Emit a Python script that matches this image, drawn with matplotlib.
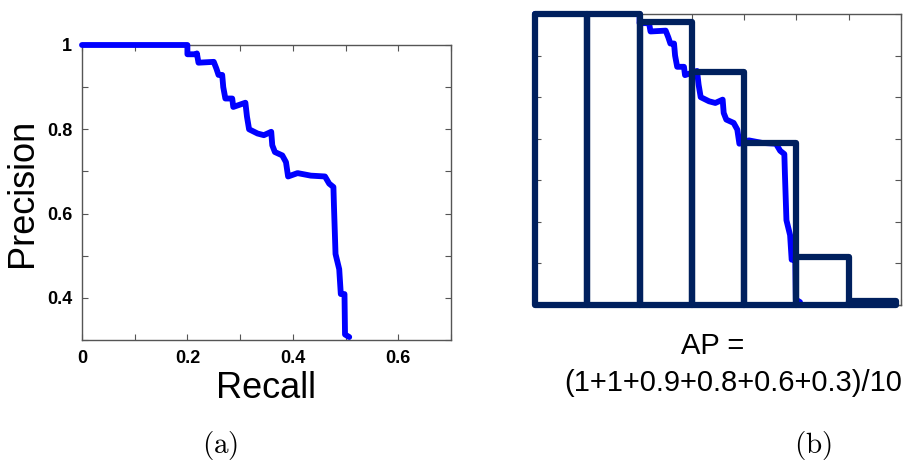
import matplotlib.pyplot as plt
from matplotlib.ticker import MultipleLocator, NullFormatter

plt.rcParams['font.family'] = ['Liberation Sans', 'DejaVu Sans']
plt.rcParams['mathtext.fontset'] = 'cm'

# courbe precision / rappel
recall = [0.0, 0.2, 0.2, 0.218, 0.218, 0.221, 0.25, 0.255, 0.259, 0.266, 0.268,
          0.272, 0.285, 0.287, 0.31, 0.313, 0.317, 0.333, 0.345, 0.359, 0.361,
          0.366, 0.38, 0.387, 0.391, 0.409, 0.434, 0.461, 0.469, 0.477, 0.478,
          0.481, 0.488, 0.491, 0.498, 0.499, 0.507]
precision = [1.0, 1.0, 0.978, 0.978, 0.98, 0.958, 0.96, 0.944, 0.929, 0.929, 0.90,
             0.873, 0.873, 0.853, 0.863, 0.83, 0.80, 0.79, 0.786, 0.794, 0.762,
             0.746, 0.738, 0.722, 0.688, 0.696, 0.69, 0.688, 0.671, 0.663, 0.619,
             0.504, 0.468, 0.409, 0.409, 0.313, 0.307]

# barres de la precision interpolee (b)
bar_left = [0.0, 0.1, 0.2, 0.3, 0.4, 0.5, 0.6]
bar_height = [1.0, 1.0, 0.98, 0.86, 0.69, 0.415, 0.31]
bar_width = [0.1, 0.1, 0.1, 0.1, 0.1, 0.1, 0.09]

navy = '#00205e'

fig = plt.figure(figsize=(9.14, 4.62), dpi=100)

# --- graphe (a)
ax1 = fig.add_axes([0.0897, 0.2641, 0.4037, 0.6385])
ax1.plot(recall, precision, color='#0000ff', lw=4.2, solid_capstyle='round',
         solid_joinstyle='round', clip_on=False, zorder=3)
ax1.set_xlim(0, 0.7)
ax1.set_ylim(0.3, 1.0)
ax1.xaxis.set_minor_locator(MultipleLocator(0.1))
ax1.yaxis.set_minor_locator(MultipleLocator(0.1))
ax1.set_xticks([0, 0.2, 0.4, 0.6])
ax1.set_xticklabels(['0', '0.2', '0.4', '0.6'])
ax1.set_yticks([0.4, 0.6, 0.8, 1.0])
ax1.set_yticklabels(['0.4', '0.6', '0.8', '1'])
ax1.tick_params(which='both', direction='in', top=True, right=True,
                length=4, width=0.8, color='#555555')
ax1.tick_params(which='major', labelsize=13, pad=7)
for lab in ax1.get_xticklabels() + ax1.get_yticklabels():
    lab.set_fontweight('bold')
for sp in ax1.spines.values():
    sp.set_color('#555555')
    sp.set_linewidth(1.0)
ax1.set_xlabel('Recall', fontsize=26, labelpad=3)
ax1.set_ylabel('Precision', fontsize=26, labelpad=5)

# --- graphe (b)
ax2 = fig.add_axes([0.5853, 0.3398, 0.4004, 0.6299])
ax2.plot(recall, precision, color='#0000ff', lw=4.2, solid_capstyle='round',
         solid_joinstyle='round', clip_on=False, zorder=2)
ax2.bar(bar_left, [h - 0.3 for h in bar_height], width=bar_width, bottom=0.3,
        align='edge', fill=False, edgecolor=navy, linewidth=4.5,
        joinstyle='round', clip_on=False, zorder=3)
ax2.set_xlim(0, 0.7)
ax2.set_ylim(0.3, 1.0)
ax2.xaxis.set_major_locator(MultipleLocator(0.1))
ax2.yaxis.set_major_locator(MultipleLocator(0.1))
ax2.xaxis.set_major_formatter(NullFormatter())
ax2.yaxis.set_major_formatter(NullFormatter())
ax2.tick_params(direction='in', top=True, right=True, length=4, width=0.8,
                color='#555555')
for sp in ax2.spines.values():
    sp.set_color('#555555')
    sp.set_linewidth(1.0)

fig.text(0.780, 1 - 346 / 462, 'AP =', fontsize=21, ha='center', va='center')
fig.text(0.802, 1 - 383 / 462, '(1+1+0.9+0.8+0.6+0.3)/10', fontsize=21,
         ha='center', va='center')

fig.text(220 / 914, 1 - 445 / 462, r'$\mathrm{(a)}$', fontsize=21,
         ha='center', va='center')
fig.text(813 / 914, 1 - 445 / 462, r'$\mathrm{(b)}$', fontsize=21,
         ha='center', va='center')

fig.savefig('out.png', dpi=100)
